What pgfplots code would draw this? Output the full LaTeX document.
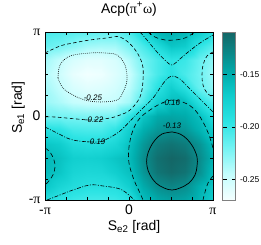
\documentclass[border=0pt]{standalone}
\usepackage{fontspec}
\setmainfont{Liberation Sans}
\newfontfamily\pifont{Liberation Serif}
\usepackage{pgfplots}
\pgfplotsset{compat=1.18}
\pgfplotsset{colormap={acp}{rgb255(0pt)=(245,255,255); rgb255(25pt)=(195,253,253); rgb255(50pt)=(115,243,243); rgb255(75pt)=(45,228,228); rgb255(100pt)=(15,205,205); rgb255(120pt)=(0,175,175); rgb255(140pt)=(10,138,138); rgb255(161pt)=(20,102,102)}}
\newcommand{\fbig}{\fontsize{14}{16}\selectfont}
\newcommand{\fsmall}{\fontsize{8.5}{9}\selectfont}
\newcommand{\flab}{\fontsize{8}{9}\selectfont\itshape}
\begin{document}
\begin{tikzpicture}
\begin{axis}[name=main,
  scale only axis, width=168bp, height=168bp,
  xmin=-1, xmax=1, ymin=-1, ymax=1, enlargelimits=false,
  axis on top,
  colormap name=acp,
  point meta min=-0.27, point meta max=-0.109,
  xtick={-1,0,1}, xticklabels={-{\pifont π},0,{\pifont π}},
  ytick={-1,0,1}, yticklabels={-{\pifont π},0,{\pifont π}},
  minor xtick={-0.75,-0.5,-0.25,0.25,0.5,0.75},
  minor ytick={-0.75,-0.5,-0.25,0.25,0.5,0.75},
  tick align=inside, major tick length=3bp, minor tick length=3bp,
  tick style={black, line width=0.4bp},
  axis line style={black, line width=0.5bp},
  tick label style={font=\fbig},
  xticklabel style={anchor=base, yshift=-14bp},
  yticklabel style={anchor=east, xshift=-1bp},
  title={Acp({\pifont π}\textsuperscript{+}{\pifont ω})},
  title style={font=\fbig, at={(0.5,1)}, anchor=base, yshift=13bp},
  xlabel={S\textsubscript{e2} [rad]},
  ylabel={S\textsubscript{e1} [rad]},
  xlabel style={font=\fbig, at={(axis description cs:0.53,-0.179)}, anchor=base},
  ylabel style={font=\fbig, at={(axis description cs:-0.137,0.55)}, anchor=base, rotate=0},
  colorbar,
  colorbar style={
    at={(parent axis.north east)}, anchor=north west, xshift=1bp,
    width=13bp,
    ytick={-0.25,-0.20,-0.15},
    yticklabels={-0.25,-0.20,-0.15},
    tick align=inside, major tick length=4bp,
    tick style={black, line width=0.6bp},
    axis line style={gray, line width=0.6bp},
    yticklabel style={font=\fsmall, xshift=1bp},
  },
]
\addplot[surf, shader=interp, mesh/cols=13, point meta=explicit] table[x=x, y=y, meta=z] {
x y z
-1 -1 -0.190
-0.8333 -1 -0.195
-0.6667 -1 -0.200
-0.5 -1 -0.203
-0.3333 -1 -0.203
-0.1667 -1 -0.200
0 -1 -0.193
0.1667 -1 -0.160
0.3333 -1 -0.147
0.5 -1 -0.142
0.6667 -1 -0.145
0.8333 -1 -0.155
1 -1 -0.170

-1 -0.8333 -0.165
-0.8333 -0.8333 -0.178
-0.6667 -0.8333 -0.186
-0.5 -0.8333 -0.190
-0.3333 -0.8333 -0.190
-0.1667 -0.8333 -0.188
0 -0.8333 -0.172
0.1667 -0.8333 -0.148
0.3333 -0.8333 -0.132
0.5 -0.8333 -0.127
0.6667 -0.8333 -0.132
0.8333 -0.8333 -0.150
1 -0.8333 -0.165

-1 -0.6667 -0.157
-0.8333 -0.6667 -0.165
-0.6667 -0.6667 -0.178
-0.5 -0.6667 -0.181
-0.3333 -0.6667 -0.180
-0.1667 -0.6667 -0.172
0 -0.6667 -0.162
0.1667 -0.6667 -0.137
0.3333 -0.6667 -0.118
0.5 -0.6667 -0.112
0.6667 -0.6667 -0.117
0.8333 -0.6667 -0.133
1 -0.6667 -0.158

-1 -0.5 -0.155
-0.8333 -0.5 -0.162
-0.6667 -0.5 -0.172
-0.5 -0.5 -0.174
-0.3333 -0.5 -0.172
-0.1667 -0.5 -0.165
0 -0.5 -0.158
0.1667 -0.5 -0.133
0.3333 -0.5 -0.115
0.5 -0.5 -0.108
0.6667 -0.5 -0.113
0.8333 -0.5 -0.130
1 -0.5 -0.152

-1 -0.3333 -0.165
-0.8333 -0.3333 -0.170
-0.6667 -0.3333 -0.185
-0.5 -0.3333 -0.188
-0.3333 -0.3333 -0.187
-0.1667 -0.3333 -0.180
0 -0.3333 -0.162
0.1667 -0.3333 -0.138
0.3333 -0.3333 -0.122
0.5 -0.3333 -0.117
0.6667 -0.3333 -0.122
0.8333 -0.3333 -0.135
1 -0.3333 -0.158

-1 -0.1667 -0.188
-0.8333 -0.1667 -0.192
-0.6667 -0.1667 -0.203
-0.5 -0.1667 -0.205
-0.3333 -0.1667 -0.205
-0.1667 -0.1667 -0.195
0 -0.1667 -0.172
0.1667 -0.1667 -0.150
0.3333 -0.1667 -0.137
0.5 -0.1667 -0.132
0.6667 -0.1667 -0.137
0.8333 -0.1667 -0.152
1 -0.1667 -0.170

-1 0 -0.220
-0.8333 0 -0.220
-0.6667 0 -0.222
-0.5 0 -0.223
-0.3333 0 -0.222
-0.1667 0 -0.221
0 0 -0.195
0.1667 0 -0.165
0.3333 0 -0.148
0.5 0 -0.145
0.6667 0 -0.148
0.8333 0 -0.160
1 0 -0.187

-1 0.1667 -0.232
-0.8333 0.1667 -0.238
-0.6667 0.1667 -0.246
-0.5 0.1667 -0.249
-0.3333 0.1667 -0.249
-0.1667 0.1667 -0.246
0 0.1667 -0.235
0.1667 0.1667 -0.207
0.3333 0.1667 -0.175
0.5 0.1667 -0.160
0.6667 0.1667 -0.160
0.8333 0.1667 -0.190
1 0.1667 -0.208

-1 0.3333 -0.235
-0.8333 0.3333 -0.245
-0.6667 0.3333 -0.255
-0.5 0.3333 -0.260
-0.3333 0.3333 -0.258
-0.1667 0.3333 -0.253
0 0.3333 -0.243
0.1667 0.3333 -0.220
0.3333 0.3333 -0.193
0.5 0.3333 -0.172
0.6667 0.3333 -0.190
0.8333 0.3333 -0.215
1 0.3333 -0.228

-1 0.5 -0.240
-0.8333 0.5 -0.250
-0.6667 0.5 -0.263
-0.5 0.5 -0.268
-0.3333 0.5 -0.266
-0.1667 0.5 -0.258
0 0.5 -0.248
0.1667 0.5 -0.225
0.3333 0.5 -0.205
0.5 0.5 -0.192
0.6667 0.5 -0.205
0.8333 0.5 -0.218
1 0.5 -0.232

-1 0.6667 -0.235
-0.8333 0.6667 -0.245
-0.6667 0.6667 -0.255
-0.5 0.6667 -0.260
-0.3333 0.6667 -0.260
-0.1667 0.6667 -0.255
0 0.6667 -0.240
0.1667 0.6667 -0.220
0.3333 0.6667 -0.205
0.5 0.6667 -0.195
0.6667 0.6667 -0.200
0.8333 0.6667 -0.215
1 0.6667 -0.228

-1 0.8333 -0.215
-0.8333 0.8333 -0.220
-0.6667 0.8333 -0.227
-0.5 0.8333 -0.234
-0.3333 0.8333 -0.236
-0.1667 0.8333 -0.235
0 0.8333 -0.222
0.1667 0.8333 -0.205
0.3333 0.8333 -0.185
0.5 0.8333 -0.165
0.6667 0.8333 -0.170
0.8333 0.8333 -0.195
1 0.8333 -0.210

-1 1 -0.205
-0.8333 1 -0.207
-0.6667 1 -0.210
-0.5 1 -0.212
-0.3333 1 -0.215
-0.1667 1 -0.215
0 1 -0.205
0.1667 1 -0.180
0.3333 1 -0.155
0.5 1 -0.150
0.6667 1 -0.155
0.8333 1 -0.170
1 1 -0.190
};
% -0.25 dotted
\addplot[black, line width=0.6bp, smooth, tension=0.6, dash pattern=on 0.8bp off 1.2bp] coordinates {
(-0.845,0.452) (-0.821,0.607) (-0.702,0.714) (-0.464,0.750) (-0.286,0.750) (-0.143,0.726) (-0.048,0.607) (-0.024,0.429) (-0.071,0.286) (-0.143,0.190) (-0.345,0.167) (-0.524,0.190) (-0.667,0.250) (-0.786,0.333) (-0.845,0.452)};
% -0.22 dashed
\addplot[black, line width=0.6bp, smooth, tension=0.6, dash pattern=on 3.5bp off 2.5bp] coordinates {
(-1.0,0.750) (-0.821,0.833) (-0.667,0.869) (-0.464,0.905) (-0.262,0.929) (-0.107,0.940) (0.048,0.821) (0.155,0.631) (0.167,0.429) (0.131,0.226) (0.012,0.071) (-0.107,0.012) (-0.226,-0.024) (-0.429,-0.048) (-0.619,-0.036) (-0.881,-0.012) (-1.0,-0.012)};
\addplot[black, line width=0.6bp, smooth, tension=0.6, dash pattern=on 3.5bp off 2.5bp] coordinates {
(1.0,0.762) (0.929,0.714) (0.881,0.607) (0.869,0.488) (0.881,0.369) (0.929,0.274) (1.0,0.226)};
% -0.19 dash-dot
\addplot[black, line width=0.6bp, smooth, tension=0.6, dash pattern=on 4bp off 1.5bp on 1bp off 1.5bp] coordinates {
(-1.0,-0.131) (-0.857,-0.202) (-0.667,-0.286) (-0.381,-0.310) (-0.262,-0.274) (-0.107,-0.179) (0.048,-0.024) (0.167,0.095) (0.286,0.214) (0.369,0.333) (0.440,0.429) (0.512,0.476) (0.607,0.440) (0.690,0.357) (0.845,0.202) (1.0,0.048)};
\addplot[black, line width=0.6bp, smooth, tension=0.6, dash pattern=on 4bp off 1.5bp on 1bp off 1.5bp] coordinates {
(0.131,1.0) (0.214,0.905) (0.333,0.762) (0.440,0.655) (0.512,0.607) (0.607,0.679) (0.690,0.750) (0.845,0.869) (1.0,0.964)};
\addplot[black, line width=0.6bp, smooth, tension=0.6, dash pattern=on 4bp off 1.5bp on 1bp off 1.5bp] coordinates {
(-0.976,-1.0) (-0.821,-0.940) (-0.667,-0.881) (-0.464,-0.821) (-0.310,-0.833) (-0.107,-0.869) (0.012,-0.952) (0.060,-1.0)};
% -0.16 dashed
\addplot[black, line width=0.6bp, smooth, tension=0.6, dash pattern=on 4.5bp off 3bp] coordinates {
(1.0,-0.381) (0.952,-0.226) (0.881,-0.071) (0.786,0.071) (0.667,0.155) (0.512,0.190) (0.369,0.143) (0.250,0.071) (0.131,-0.024) (0.048,-0.167) (0.0,-0.369) (0.0,-0.560) (0.060,-0.762) (0.131,-0.917) (0.167,-1.0)};
\addplot[black, line width=0.6bp, smooth, tension=0.6, dash pattern=on 4.5bp off 3bp] coordinates {
(0.226,1.0) (0.310,0.940) (0.429,0.905) (0.548,0.905) (0.667,0.929) (0.786,1.0)};
\addplot[black, line width=0.6bp, smooth, tension=0.6, dash pattern=on 4.5bp off 3bp] coordinates {
(-1.0,-0.381) (-0.940,-0.429) (-0.893,-0.524) (-0.881,-0.607) (-0.905,-0.702) (-0.964,-0.786) (-1.0,-0.821)};
\addplot[black, line width=0.6bp, smooth, tension=0.6, dash pattern=on 4.5bp off 3bp] coordinates {
(1.0,-0.714) (0.940,-0.798) (0.905,-0.905) (0.881,-1.0)};
% -0.13 solid
\addplot[black, line width=0.7bp, smooth, tension=0.6] coordinates {
(0.512,-0.190) (0.393,-0.214) (0.310,-0.286) (0.250,-0.381) (0.214,-0.488) (0.214,-0.595) (0.250,-0.702) (0.321,-0.798) (0.417,-0.857) (0.512,-0.881) (0.607,-0.857) (0.714,-0.798) (0.786,-0.702) (0.810,-0.595) (0.810,-0.488) (0.762,-0.369) (0.690,-0.274) (0.607,-0.214) (0.512,-0.190)};
\node[font=\flab] at (axis cs:-0.430,0.214) {-0.25};
\node[font=\flab] at (axis cs:-0.415,-0.048) {-0.22};
\node[font=\flab] at (axis cs:-0.390,-0.310) {-0.19};
\node[font=\flab] at (axis cs:0.500,0.155) {-0.16};
\node[font=\flab] at (axis cs:0.512,-0.119) {-0.13};
\end{axis}
\pgfresetboundingbox
\path[use as bounding box] ([shift={(-45bp,-45bp)}]main.south west) rectangle ([shift={(216bp,200bp)}]main.south west);
\end{tikzpicture}
\end{document}
